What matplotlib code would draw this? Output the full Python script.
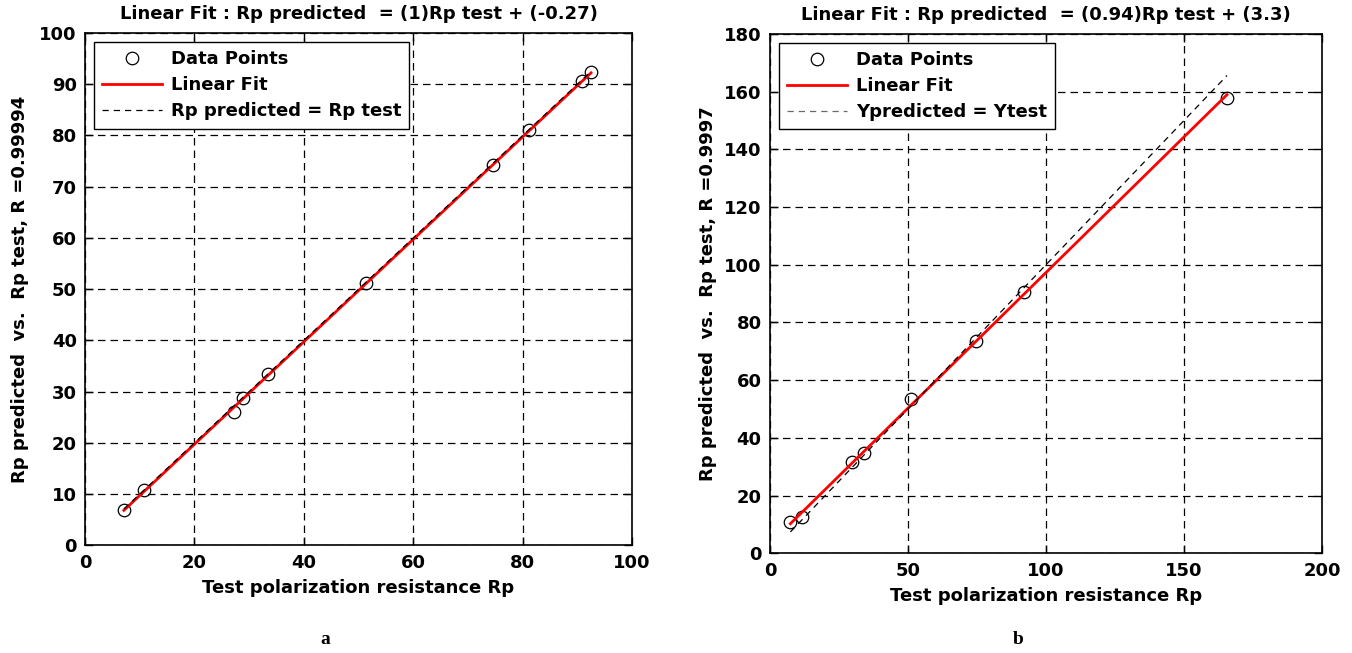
import matplotlib
matplotlib.use("Agg")
import matplotlib.pyplot as plt
import numpy as np
from matplotlib.lines import Line2D

plt.rcParams['font.family'] = ['DejaVu Sans']
plt.rcParams['font.weight'] = 'bold'

# Panel a data
a_test = [7.1, 10.7, 27.2, 28.9, 33.5, 51.35, 74.5, 81.2, 90.85, 92.5]
a_pred = [6.96, 10.8, 26.1, 28.8, 33.5, 51.2, 74.2, 81.1, 90.6, 92.4]
a_slope, a_icpt = 1.0, -0.27

# Panel b data
b_test = [7.4, 11.6, 29.7, 33.9, 51.2, 74.6, 92.1, 165.6]
b_pred = [10.85, 12.7, 31.8, 34.9, 53.5, 73.5, 90.7, 157.7]
b_slope, b_icpt = 0.94, 3.3

a_title = "Linear Fit : Rp predicted  = (1)Rp test + (-0.27)"
b_title = "Linear Fit : Rp predicted  = (0.94)Rp test + (3.3)"
a_ylabel = "Rp predicted  vs.  Rp test, R =0.99994"
b_ylabel = "Rp predicted  vs.  Rp test, R =0.9997"
xlabel = "Test polarization resistance Rp"
a_xticks = [0, 20, 40, 60, 80, 100]
a_yticks = [0, 10, 20, 30, 40, 50, 60, 70, 80, 90, 100]
b_xticks = [0, 50, 100, 150, 200]
b_yticks = [0, 20, 40, 60, 80, 100, 120, 140, 160, 180]

fig = plt.figure(figsize=(13.52, 6.53), dpi=100)
axA = fig.add_axes([0.0629, 0.1649, 0.4046, 0.7845])
axB = fig.add_axes([0.5695, 0.1527, 0.4083, 0.7953])

FS = 13

def panel(ax, xt, yp, slope, icpt, xticks, yticks, title, ylabel, identity_label, dash_color, ypad):
    xt = np.asarray(xt); yp = np.asarray(yp)
    ax.set_axisbelow(True)
    ax.grid(True, color='black', linestyle=(0, (6, 4)), linewidth=0.9)
    ax.plot(xt, yp, 'o', mfc='none', mec='black', ms=9, mew=0.9, zorder=3)
    xr = np.array([xt.min(), xt.max()])
    ax.plot(xr, slope * xr + icpt, '-', color='red', lw=2, zorder=4)
    ax.plot(xr, xr, color='black', linestyle=(0, (5, 4)), lw=0.9, zorder=5)
    ax.set_xlim(xticks[0], xticks[-1]); ax.set_ylim(yticks[0], yticks[-1])
    ax.set_xticks(xticks); ax.set_yticks(yticks)
    ax.tick_params(direction='in', top=True, right=True, length=6, width=1, labelsize=FS, pad=6)
    for lab in ax.get_xticklabels() + ax.get_yticklabels():
        lab.set_fontweight('bold')
    for s in ax.spines.values():
        s.set_linewidth(1.2)
    ax.set_title(title, fontsize=FS, fontweight='bold', pad=10)
    ax.set_xlabel(xlabel, fontsize=FS, fontweight='bold', labelpad=5)
    ax.set_ylabel(ylabel, fontsize=FS, fontweight='bold', labelpad=ypad)
    handles = [
        Line2D([], [], marker='o', ls='none', mfc='none', mec='black', ms=9, mew=0.9),
        Line2D([], [], color='red', lw=2),
        Line2D([], [], color=dash_color, linestyle=(0, (5, 4)), lw=0.9),
    ]
    leg = ax.legend(handles, ['Data Points', 'Linear Fit', identity_label], loc='upper left',
                    prop={'weight': 'bold', 'size': FS}, fancybox=False,
                    edgecolor='black', framealpha=1, borderpad=0.45, labelspacing=0.45,
                    handlelength=3.3, handletextpad=0.5, borderaxespad=0.5)
    leg.get_frame().set_linewidth(1.0)

panel(axA, a_test, a_pred, a_slope, a_icpt, a_xticks, a_yticks, a_title, a_ylabel,
      'Rp predicted = Rp test', 'black', 7)
panel(axB, b_test, b_pred, b_slope, b_icpt, b_xticks, b_yticks, b_title, b_ylabel,
      'Ypredicted = Ytest', 'dimgray', 5)

fig.text(325 / 1352, 1 - 640 / 653, 'a', family='Liberation Serif', fontweight='bold',
         fontsize=14, ha='center', va='center')
fig.text(1018 / 1352, 1 - 640 / 653, 'b', family='Liberation Serif', fontweight='bold',
         fontsize=14, ha='center', va='center')

fig.savefig('out.png', dpi=100)
